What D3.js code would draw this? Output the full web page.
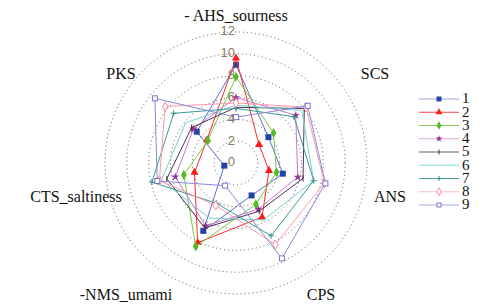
<!DOCTYPE html>
<html>
<head>
<meta charset="utf-8">
<script src="https://cdn.jsdelivr.net/npm/d3@7"></script>
<style>
  body { margin: 0; background: #fff; }
  svg { display: block; }
</style>
</head>
<body>
<svg id="chart"></svg>
<script>
// Data
const axes = ["- AHS_sourness", "SCS", "ANS", "CPS", "-NMS_umami", "CTS_saltiness", "PKS"];
const ticks = [0, 2, 4, 6, 8, 10, 12];
const seriesNames = ["1", "2", "3", "4", "5", "6", "7", "8", "9"];
const s1 = [9.0, 3.8, 4.4, 3.3, 6.9, 1.1, 4.6];
const s2 = [9.6, 2.7, 3.1, 5.5, 8.1, 3.9, 3.4];
const s3 = [7.9, 4.4, 3.8, 4.2, 8.5, 4.9, 3.3];
const s4 = [6.0, 7.0, 5.8, 4.7, 6.4, 5.7, 5.0];
const s5 = [5.1, 8.0, 6.3, 4.9, 6.6, 6.5, 5.2];
const s6 = [5.3, 7.7, 7.3, 5.8, 5.6, 7.0, 5.9];
const s7 = [5.0, 6.8, 7.3, 7.4, 4.1, 7.9, 7.3];
const s8 = [5.5, 8.2, 8.3, 8.3, 4.3, 7.2, 8.3];
const s9 = [4.2, 8.4, 8.4, 9.7, 2.3, 7.4, 9.5];
const allSeries = [s1, s2, s3, s4, s5, s6, s7, s8, s9];

// Styles
const lineColors = ["#5b6fd0", "#ff2a2a", "#77cc44", "#cc77cc", "#4b3550", "#77d0d0", "#3a9a94", "#ff99aa", "#8888dd"];
const legendLineColors = ["#9aa6dd", "#ff4040", "#88cc55", "#ddaadd", "#6a5a70", "#88dddd", "#4aa5a0", "#ffbbc5", "#aaaae5"];
const markColors = ["#2244aa", "#ff1a1a", "#55bb22", "#993399", "#3a2a40", null, "#2f8a84", "#ff8899", "#7777cc"];
const markTypes = ["square", "triangle", "diamond", "star", "tick", "none", "plus", "odiamond", "osquare"];

const width = 486, height = 306;
const cx = 236, cy = 163, R = 131;

const svg = d3.select("#chart").attr("width", width).attr("height", height);

const r = d3.scaleLinear().domain([0, 12]).range([0, R]);
const angle = d3.scaleLinear().domain([0, axes.length]).range([0, 2 * Math.PI]);

const g = svg.append("g").attr("transform", `translate(${cx},${cy})`);

// Grid rings
g.append("g").selectAll("circle")
    .data(ticks.filter(t => t > 0))
    .join("circle")
    .attr("r", d => r(d))
    .attr("fill", "none")
    .attr("stroke", "#555")
    .attr("stroke-width", 1)
    .attr("stroke-dasharray", "1,3");

function pt(i, v) {
    const a = angle(i);
    return [Math.sin(a) * r(v), -Math.cos(a) * r(v)];
}

// Axis labels
const labelPos = [[0, -146], [139, -88], [154, 35], [85, 133], [-110, 133], [-160, 35], [-115, -88]];
g.append("g").selectAll("text")
    .data(axes)
    .join("text")
    .attr("x", (d, i) => labelPos[i][0])
    .attr("y", (d, i) => labelPos[i][1])
    .attr("text-anchor", "middle")
    .attr("dominant-baseline", "middle")
    .attr("font-family", "Liberation Serif, Times New Roman, serif")
    .attr("font-size", 16)
    .attr("fill", "#111")
    .text(d => d);

// Series
const line = d3.line().curve(d3.curveLinearClosed);
const seriesG = g.append("g").selectAll("g")
    .data(allSeries)
    .join("g");

seriesG.append("path")
    .attr("d", d => line(d.map((v, i) => pt(i, v))))
    .attr("fill", "none")
    .attr("stroke", (d, k) => lineColors[k])
    .attr("stroke-width", 1);

function drawMarker(sel, type, color, size) {
    const s = size;
    if (type === "square") sel.append("rect").attr("x", -s / 2).attr("y", -s / 2).attr("width", s).attr("height", s).attr("fill", color);
    else if (type === "triangle") sel.append("path").attr("d", d3.symbol(d3.symbolTriangle, s * s * 0.8)()).attr("fill", color);
    else if (type === "diamond") sel.append("path").attr("d", d3.symbol(d3.symbolDiamond, s * s * 0.8)()).attr("fill", color);
    else if (type === "star") sel.append("path").attr("d", d3.symbol(d3.symbolStar, s * s * 0.6)()).attr("fill", color);
    else if (type === "tick") sel.append("line").attr("y1", -s / 2).attr("y2", s / 2).attr("stroke", color).attr("stroke-width", 1);
    else if (type === "plus") {
        sel.append("line").attr("y1", -s / 2).attr("y2", s / 2).attr("stroke", color).attr("stroke-width", 1);
        sel.append("line").attr("x1", -s / 2).attr("x2", s / 2).attr("stroke", color).attr("stroke-width", 1);
    }
    else if (type === "odiamond") sel.append("path").attr("d", d3.symbol(d3.symbolDiamond, s * s * 0.7)()).attr("fill", "#fff").attr("stroke", color);
    else if (type === "osquare") sel.append("rect").attr("x", -s / 2 + 0.5).attr("y", -s / 2 + 0.5).attr("width", s - 1).attr("height", s - 1).attr("fill", "#fff").attr("stroke", color);
}

seriesG.each(function (d, k) {
    const grp = d3.select(this);
    if (markTypes[k] === "none") return;
    d.forEach((v, i) => {
        const [x, y] = pt(i, v);
        const m = grp.append("g").attr("transform", `translate(${x},${y})`);
        drawMarker(m, markTypes[k], markColors[k], 6);
    });
});

// Tick labels along top axis
g.append("g").selectAll("text")
    .data(ticks)
    .join("text")
    .attr("x", -1)
    .attr("y", d => -r(d))
    .attr("text-anchor", "end")
    .attr("dominant-baseline", "middle")
    .attr("font-family", "Liberation Sans, Arial, sans-serif")
    .attr("font-size", 13)
    .attr("fill", "#8a7a5c")
    .text(d => d);

// Legend
const legend = svg.append("g").attr("transform", "translate(419,99)");
const item = legend.selectAll("g")
    .data(seriesNames)
    .join("g")
    .attr("transform", (d, i) => `translate(0,${i * 13.25})`);
item.append("line")
    .attr("x1", 0).attr("x2", 40)
    .attr("stroke", (d, k) => legendLineColors[k])
    .attr("stroke-width", 1.2);
item.each(function (d, k) {
    if (markTypes[k] === "none") return;
    const m = d3.select(this).append("g").attr("transform", "translate(20,0)");
    drawMarker(m, markTypes[k], markColors[k], 5);
});
item.append("text")
    .attr("x", 43)
    .attr("y", 1)
    .attr("dominant-baseline", "middle")
    .attr("font-family", "Liberation Serif, Times New Roman, serif")
    .attr("font-size", 15)
    .attr("fill", "#111")
    .text(d => d);
</script>
</body>
</html>
